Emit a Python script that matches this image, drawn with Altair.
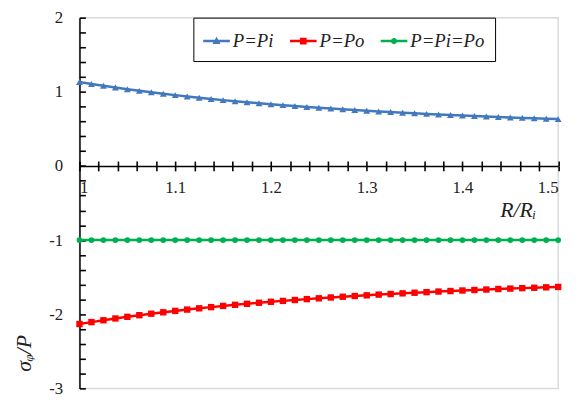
import altair as alt
import pandas as pd

# ---------------- data ----------------
r_values = [1.0, 1.0125, 1.025, 1.0375, 1.05, 1.0625, 1.075, 1.0875, 1.1, 1.1125,
            1.125, 1.1375, 1.15, 1.1625, 1.175, 1.1875, 1.2, 1.2125, 1.225, 1.2375,
            1.25, 1.2625, 1.275, 1.2875, 1.3, 1.3125, 1.325, 1.3375, 1.35, 1.3625,
            1.375, 1.3875, 1.4, 1.4125, 1.425, 1.4375, 1.45, 1.4625, 1.475, 1.4875, 1.5]
sigma_pi = [1.132, 1.106, 1.081, 1.057, 1.035, 1.013, 0.993, 0.974, 0.955, 0.937,
            0.920, 0.904, 0.888, 0.873, 0.859, 0.845, 0.832, 0.820, 0.808, 0.796,
            0.785, 0.774, 0.764, 0.754, 0.745, 0.735, 0.727, 0.718, 0.710, 0.702,
            0.694, 0.687, 0.680, 0.673, 0.667, 0.660, 0.654, 0.648, 0.643, 0.637, 0.632]
sigma_po = [-2.132, -2.106, -2.081, -2.057, -2.035, -2.013, -1.993, -1.974, -1.955, -1.937,
            -1.920, -1.904, -1.888, -1.873, -1.859, -1.845, -1.832, -1.820, -1.808, -1.796,
            -1.785, -1.774, -1.764, -1.754, -1.745, -1.735, -1.727, -1.718, -1.710, -1.702,
            -1.694, -1.687, -1.680, -1.673, -1.667, -1.660, -1.654, -1.648, -1.643, -1.637, -1.632]
sigma_pipo = [-1.0, -1.0, -1.0, -1.0, -1.0, -1.0, -1.0, -1.0, -1.0, -1.0,
              -1.0, -1.0, -1.0, -1.0, -1.0, -1.0, -1.0, -1.0, -1.0, -1.0,
              -1.0, -1.0, -1.0, -1.0, -1.0, -1.0, -1.0, -1.0, -1.0, -1.0,
              -1.0, -1.0, -1.0, -1.0, -1.0, -1.0, -1.0, -1.0, -1.0, -1.0, -1.0]

series_names = ["P=Pi", "P=Po", "P=Pi=Po"]
series_colors = ["#4178BE", "#FF0000", "#00B050"]
series_shapes = ["triangle-up", "square", "circle"]
series_sizes = [48, 42, 34]

x_label_values = [1.0, 1.1, 1.2, 1.3, 1.4, 1.5]
y_label_values = [-3, -2, -1, 0, 1, 2]
x_minor_ticks = [round(1 + 0.02 * i, 2) for i in range(26)]
y_minor_ticks = [round(-3 + 0.2 * i, 1) for i in range(26)]

# legend symbols: a short line with the series marker on it
LINE = "M-1,-0.09L1,-0.09L1,0.09L-1,0.09Z "
legend_shapes = [
    LINE + "M0,-0.32L0.3,0.22L-0.3,0.22Z",
    LINE + "M-0.25,-0.25L0.25,-0.25L0.25,0.25L-0.25,0.25Z",
    LINE + "M-0.23,0A0.23,0.23 0 1,1 0.23,0A0.23,0.23 0 1,1 -0.23,0Z",
]

rows = []
for name, vals in zip(series_names, [sigma_pi, sigma_po, sigma_pipo]):
    for r, s in zip(r_values, vals):
        rows.append({"r": r, "s": s, "series": name})
df = pd.DataFrame(rows)

W, H = 485.5, 376
LABEL_FONT = "Liberation Serif"
xscale = alt.Scale(domain=[1, 1.5], nice=False, zero=False)
yscale = alt.Scale(domain=[-3, 2], nice=False, zero=False)

# main axes: x along the zero line (ticks below, labels), y on the left (labels)
X = alt.X("r:Q", scale=xscale,
          axis=alt.Axis(orient="bottom", values=x_minor_ticks, offset=-H * 0.6,
                        ticks=True, tickSize=5, tickWidth=1.6, tickColor="black",
                        grid=False, domainColor="black", domainWidth=1.5,
                        labelPadding=9, labelFont=LABEL_FONT, labelFontSize=17,
                        labelColor="#222222", labelOverlap=False,
                        labelExpr="abs(datum.value*10 - round(datum.value*10)) < 0.001 ? '' + datum.value : ''",
                        title="R/Rᵢ", titleX=444.5, titleY=44, titleAlign="center",
                        titleBaseline="middle", titleFont=LABEL_FONT, titleFontSize=22,
                        titleFontStyle="italic", titleFontWeight="normal",
                        titleColor="#222222"))
Y = alt.Y("s:Q", scale=yscale,
          axis=alt.Axis(orient="left", values=y_label_values, ticks=False, tickSize=0,
                        grid=False, domainColor="black", domainWidth=1.5,
                        labelPadding=17, labelFont=LABEL_FONT, labelFontSize=17,
                        labelColor="#222222", labelExpr="'' + datum.value",
                        title="σᵩ/P", titleX=-56.5, titleY=340, titleAngle=270,
                        titleAlign="center", titleBaseline="middle",
                        titleFont=LABEL_FONT, titleFontSize=22, titleFontStyle="italic",
                        titleFontWeight="normal", titleColor="#222222"))

# helper axes that only add tick marks: x ticks above the zero line, y ticks into the plot
X_T = alt.X("r:Q", scale=xscale,
            axis=alt.Axis(orient="top", values=x_minor_ticks, offset=-H * 0.4,
                          ticks=True, tickSize=5, tickWidth=1.6, tickColor="black",
                          labels=False, domain=False, grid=False, title=None))
Y_T = alt.Y("s:Q", scale=yscale,
            axis=alt.Axis(orient="right", values=y_minor_ticks, offset=-W,
                          ticks=True, tickSize=6, tickWidth=1.6, tickColor="black",
                          labels=False, domain=False, grid=False, title=None))

base_all = alt.Chart(df)

main_layers = []
for name, color, shape, size in zip(series_names, series_colors, series_shapes, series_sizes):
    base = base_all.transform_filter(alt.datum.series == name)
    main_layers.append(base.mark_line(color=color, strokeWidth=2.5).encode(x=X, y=Y))
    main_layers.append(base.mark_point(color=color, shape=shape, size=size, filled=True,
                                       opacity=1).encode(x=X, y=Y))

legend_kwargs = dict(title=None, orient="none", legendX=115.5, legendY=0,
                     direction="horizontal", columns=3,
                     symbolSize=729, symbolOpacity=1,
                     symbolStrokeWidth=0, labelOffset=3,
                     columnPadding=16, padding=10,
                     labelFont=LABEL_FONT, labelFontSize=19,
                     labelFontStyle="italic", labelColor="#222222",
                     labelLimit=200, strokeColor="black", fillColor="white")

legend_layer = base_all.mark_point(filled=True, opacity=0).encode(
    x=X, y=Y,
    color=alt.Color("series:N",
                    scale=alt.Scale(domain=series_names, range=series_colors),
                    legend=alt.Legend(**legend_kwargs)),
    shape=alt.Shape("series:N",
                    scale=alt.Scale(domain=series_names, range=legend_shapes),
                    legend=alt.Legend(**legend_kwargs)),
)

main = alt.layer(*main_layers, legend_layer)
tick_carrier = base_all.mark_point(opacity=0).encode(x=X_T, y=Y_T)

chart = alt.layer(main, tick_carrier).resolve_axis(
    x="independent", y="independent"
).properties(
    width=W, height=H,
    padding={"left": 72.5, "top": 7, "right": 13, "bottom": 10},
    autosize=alt.AutoSizeParams(type="none"),
    background="white",
).configure_view(stroke="#d9d9d9", strokeWidth=1.5)

chart.save("out.html", embed_options={"renderer": "svg", "actions": False})
